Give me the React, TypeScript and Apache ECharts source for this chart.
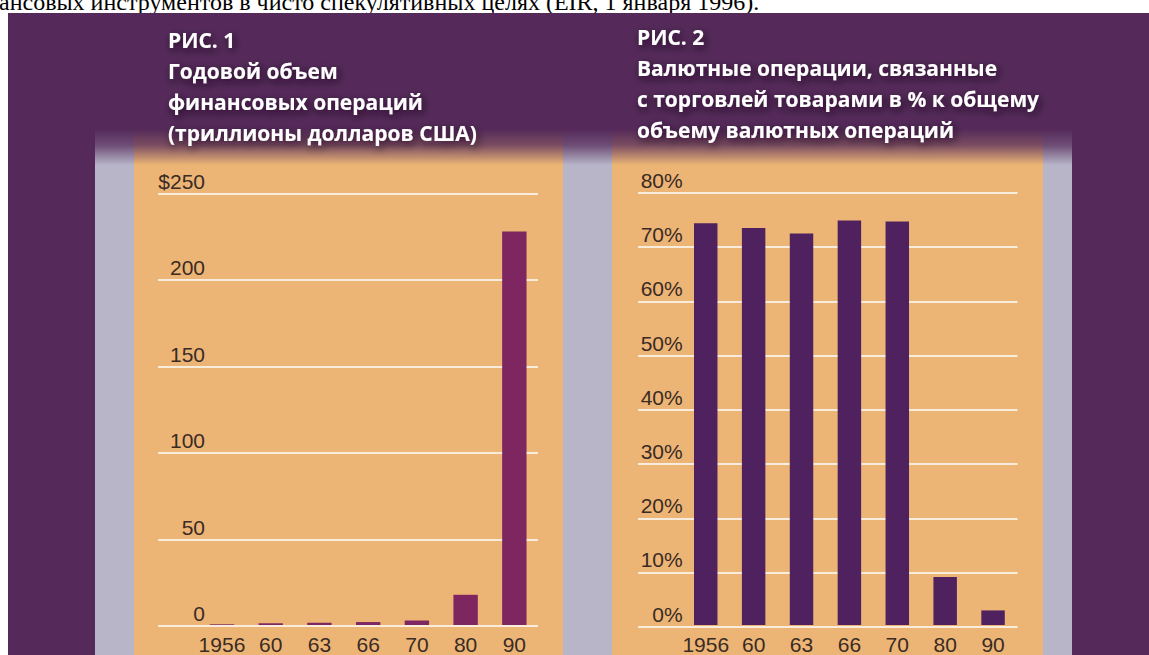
import React, { useEffect, useRef } from "react";
import * as echarts from "echarts";

// ---- data ----
const years = ["1956", "60", "63", "66", "70", "80", "90"];
const volumeTrillions = [0.4, 1.0, 1.3, 1.7, 2.6, 17.5, 228];
const tradeSharePct = [74.4, 73.5, 72.5, 74.9, 74.7, 8.9, 2.7];
const volumeMax = 250;
const volumeStep = 50;
const shareMax = 80;
const shareStep = 10;

const fig1Title = ["РИС. 1", "Годовой объем", "финансовых операций", "(триллионы долларов США)"];
const fig2Title = [
  "РИС. 2",
  "Валютные операции, связанные",
  "с торговлей товарами в % к общему",
  "объему валютных операций",
];
const topLine = "ансовых инструментов в чисто спекулятивных целях (EIR, 1 января 1996).";

// ---- styles ----
const W = 1149;
const H = 655;
const PURPLE = "#552a5a";
const ORANGE = "#ecb576";
const GREY = "#b7b5c7";
const GRID_LINE = "#f8eddc";
const LABEL = "#3a2b24";
const BAR1 = "#7e2660";
const BAR2 = "#50215f";
const LABEL_FONT = '"Liberation Sans", Arial, sans-serif';
const TITLE_FONT = '"Open Sans", "Noto Sans", sans-serif';

function titleTexts(lines: string[], x: number, centres: number[]) {
  return lines.map((t, i) => ({
    type: "text",
    z: 20,
    style: {
      text: t,
      x,
      y: centres[i],
      fill: "#ffffff",
      font: `bold 21px ${TITLE_FONT}`,
      verticalAlign: "middle",
      textShadowColor: "rgba(20,0,25,0.85)",
      textShadowBlur: 8,
      textShadowOffsetX: 2,
      textShadowOffsetY: 3,
    },
  }));
}

export default function App() {
  const ref = useRef<HTMLDivElement>(null);
  useEffect(() => {
    if (!ref.current) return;
    const chart = echarts.init(ref.current, null, { renderer: "svg" });
    const axisLabelY = (margin: number, fmt: (v: number) => string) => ({
      inside: true,
      align: "right",
      verticalAlign: "bottom",
      margin,
      padding: [0, 0, 2, 0],
      color: LABEL,
      fontSize: 21,
      fontFamily: LABEL_FONT,
      formatter: fmt,
    });
    const catAxis = (gridIndex: number) => ({
      gridIndex,
      type: "category",
      data: years,
      axisLine: { show: false },
      axisTick: { show: false },
      splitLine: { show: false },
      axisLabel: {
        interval: 0,
        margin: 9,
        color: LABEL,
        fontSize: 21,
        fontFamily: LABEL_FONT,
      },
    });
    const hiddenX = (gridIndex: number) => ({
      gridIndex,
      type: "value",
      show: false,
      min: 0,
      max: 1,
      splitLine: { show: false },
    });
    const hiddenY = (gridIndex: number, max: number) => ({
      gridIndex,
      type: "value",
      show: false,
      min: 0,
      max,
      splitLine: { show: false },
    });
    const lineY = (gridIndex: number, max: number, step: number, margin: number, fmt: (v: number) => string) => ({
      gridIndex,
      type: "value",
      min: 0,
      max,
      interval: step,
      axisLine: { show: false },
      axisTick: { show: false },
      splitLine: { show: true, lineStyle: { color: GRID_LINE, width: 2 } },
      axisLabel: axisLabelY(margin, fmt),
    });

    const option: any = {
      animation: false,
      backgroundColor: "#ffffff",
      grid: [
        { left: 158, right: W - 538, top: 193.5, bottom: H - 626 },
        { left: 197.6, right: W - 538.7, top: 193.5, bottom: H - 626 },
        { left: 638, right: W - 1017.5, top: 193, bottom: H - 626.7 },
        { left: 681.8, right: W - 1017, top: 193, bottom: H - 626.7 },
      ],
      xAxis: [hiddenX(0), catAxis(1), hiddenX(2), catAxis(3)],
      yAxis: [
        lineY(0, volumeMax, volumeStep, 47, (v: number) => (v === volumeMax ? "$" + v : String(v))),
        hiddenY(1, volumeMax),
        lineY(2, shareMax, shareStep, 44.7, (v: number) => v + "%"),
        hiddenY(3, shareMax),
      ],
      series: [
        {
          type: "bar",
          xAxisIndex: 1,
          yAxisIndex: 1,
          data: volumeTrillions,
          barWidth: "50%",
          itemStyle: { color: BAR1 },
        },
        {
          type: "bar",
          xAxisIndex: 3,
          yAxisIndex: 3,
          data: tradeSharePct,
          barWidth: "49%",
          itemStyle: { color: BAR2 },
        },
      ],
      graphic: [
        {
          type: "text",
          z: -30,
          style: {
            text: topLine,
            x: -1,
            y: 2,
            fill: "#000",
            font: '24px "Liberation Serif", "DejaVu Serif", serif',
            verticalAlign: "middle",
          },
        },
        { type: "rect", z: -20, shape: { x: 8, y: 13, width: W - 8, height: H - 13 }, style: { fill: PURPLE } },
        { type: "rect", z: -15, shape: { x: 95, y: 130, width: 40, height: H - 130 }, style: { fill: GREY } },
        { type: "rect", z: -15, shape: { x: 134, y: 130, width: 429, height: H - 130 }, style: { fill: ORANGE } },
        { type: "rect", z: -15, shape: { x: 563, y: 130, width: 50, height: H - 130 }, style: { fill: GREY } },
        { type: "rect", z: -15, shape: { x: 612, y: 130, width: 431, height: H - 130 }, style: { fill: ORANGE } },
        { type: "rect", z: -15, shape: { x: 1043, y: 130, width: 29, height: H - 130 }, style: { fill: GREY } },
        {
          type: "rect",
          z: -12,
          shape: { x: 95, y: 129, width: 977, height: 36 },
          style: {
            fill: new echarts.graphic.LinearGradient(0, 0, 0, 1, [
              { offset: 0, color: "rgba(85,42,90,1)" },
              { offset: 0.45, color: "rgba(85,42,90,0.75)" },
              { offset: 1, color: "rgba(85,42,90,0)" },
            ]),
          },
        },
        ...titleTexts(fig1Title, 168, [40, 71, 102, 133]),
        ...titleTexts(fig2Title, 637, [37, 68, 99, 130]),
      ],
    };
    chart.setOption(option);
    return () => chart.dispose();
  }, []);
  return (
    <div
      ref={ref}
      style={{ position: "fixed", left: 0, top: 0, width: W, height: H }}
    />
  );
}
